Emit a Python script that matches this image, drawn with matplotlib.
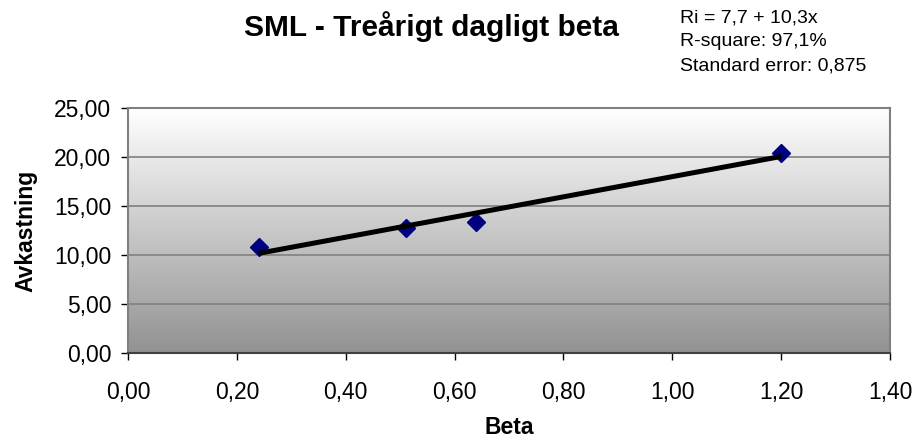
import numpy as np
import matplotlib
matplotlib.use("Agg")
import matplotlib.pyplot as plt
from matplotlib.ticker import FuncFormatter

# Data

beta = [0.24, 0.51, 0.64, 1.20]
avkastning = [10.85, 12.8, 13.35, 20.45]

intercept = 7.7
slope = 10.3

stats_text = [
    "Ri = 7,7 + 10,3x",
    "R-square: 97,1%",
    "Standard error: 0,875"
]

x_ticks = [0.0, 0.2, 0.4, 0.6, 0.8, 1.0, 1.2, 1.4]
y_ticks = [0, 5, 10, 15, 20, 25]

plt.rcParams["font.family"] = ["Liberation Sans", "DejaVu Sans"]

fig = plt.figure(figsize=(9.17, 4.41), dpi=100)

ax = fig.add_axes([0.1396, 0.1995, 0.831, 0.5555])

# Gradient background (white at top, grey at bottom)

grad = np.linspace(0, 1, 256).reshape(-1, 1)
ax.imshow(
    grad,
    cmap=matplotlib.colors.LinearSegmentedColormap.from_list(
        "bg", ["#ffffff", "#929292"]
    ),
    extent=[0, 1, 0, 1],
    transform=ax.transAxes,
    aspect="auto",
    zorder=0
)

ax.set_xlim(0, 1.4)
ax.set_ylim(0, 25)

for yv in y_ticks[1:-1]:
    ax.axhline(yv, color="#808080", lw=1.2, zorder=1)

# Series and trend line

ax.plot(
    beta,
    avkastning,
    linestyle="none",
    marker="D",
    markersize=9,
    color="#000080",
    zorder=3
)

x_fit = np.array([min(beta), max(beta)])
ax.plot(
    x_fit,
    intercept + slope * x_fit,
    color="black",
    lw=3.6,
    solid_capstyle="butt",
    zorder=4
)

ax.set_xticks(x_ticks)
ax.set_yticks(y_ticks)

comma = FuncFormatter(lambda v, p: f"{v:.2f}".replace(".", ","))
ax.xaxis.set_major_formatter(comma)
ax.yaxis.set_major_formatter(comma)

ax.tick_params(
    axis="both",
    direction="out",
    length=5,
    width=1,
    color="black",
    labelsize=16.5
)
ax.tick_params(axis="x", pad=15)
ax.tick_params(axis="y", pad=7)

for side in ["top", "right", "left"]:
    ax.spines[side].set_color("#808080")
    ax.spines[side].set_linewidth(1.5)
ax.spines["bottom"].set_color("#404040")
ax.spines["bottom"].set_linewidth(1.5)

ax.set_xlabel("Beta", fontsize=16.5, fontweight="bold", labelpad=9)
ax.set_ylabel("Avkastning", fontsize=16.5, fontweight="bold", labelpad=12)

fig.text(
    0.471,
    0.94,
    "SML - Treårigt dagligt beta",
    ha="center",
    va="center",
    fontsize=21.5,
    fontweight="bold"
)

for i, line in enumerate(stats_text):
    fig.text(
        0.7415,
        1 - (18 + 24 * i) / 441,
        line,
        ha="left",
        va="center",
        fontsize=14
    )

fig.savefig("out.png", dpi=100)
